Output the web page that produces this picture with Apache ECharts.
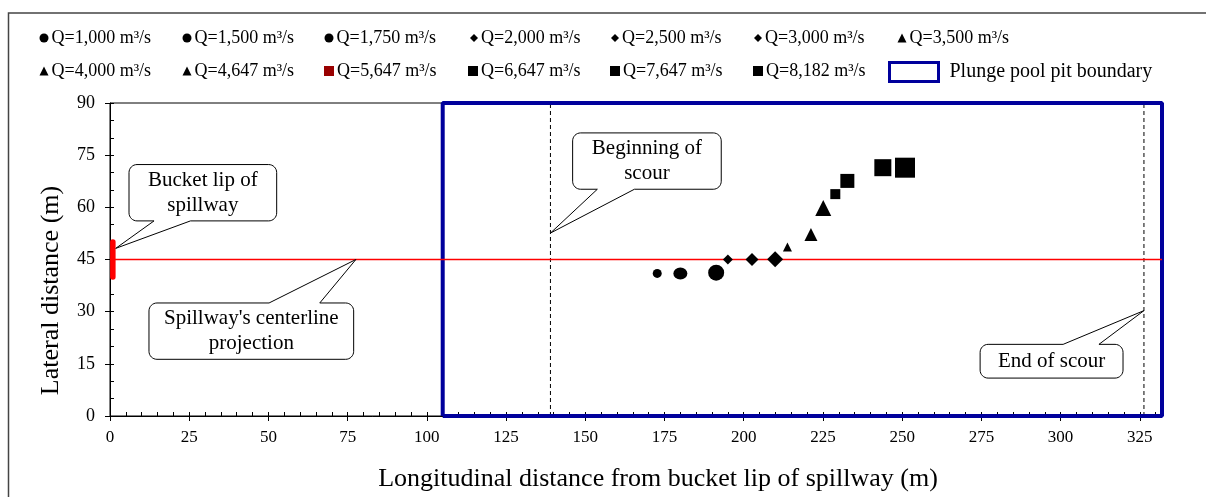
<!DOCTYPE html>
<html><head><meta charset="utf-8">
<script src="https://cdn.jsdelivr.net/npm/echarts@6/dist/echarts.min.js"></script>
<style>html,body{margin:0;padding:0;background:#fff}#c{width:1206px;height:497px}</style>
</head><body><div id="c"></div>
<script>
// ---------- data ----------
const seriesNames = ['Q=1,000 m³/s','Q=1,500 m³/s','Q=1,750 m³/s','Q=2,000 m³/s','Q=2,500 m³/s','Q=3,000 m³/s','Q=3,500 m³/s',
  'Q=4,000 m³/s','Q=4,647 m³/s','Q=5,647 m³/s','Q=6,647 m³/s','Q=7,647 m³/s','Q=8,182 m³/s'];
const xValues = [172.7, 180.0, 191.3, 195.0, 202.6, 209.9, 213.8, 221.2, 225.1, 228.9, 232.7, 243.9, 250.9];
const yValues = [41.0, 41.0, 41.2, 45.0, 45.0, 45.1, 48.6, 52.2, 59.8, 63.8, 67.6, 71.4, 71.4];
const boundaryName = 'Plunge pool pit boundary';
const boundaryX = [105, 332];
const boundaryY = [0, 90];
const centerlineY = 45;
const bucketLipX = 0.9;
const bucketLipY = [40, 50];
const scourStartX = 139;
const scourEndX = 326.3;
const xRange = [0, 332];
const yRange = [0, 90];
const calloutTexts = ['Bucket lip of\nspillway', "Spillway's centerline\nprojection", 'Beginning of\nscour', 'End of scour'];

// ---------- styles / layout ----------
const FONT = '"Liberation Serif","Times New Roman",serif';
const symbolKinds = ['circle','circle','circle','diamond','diamond','diamond','triangle','triangle','triangle','rect','rect','rect','rect'];
const symbolSizes = [9, [14,12], 16, 10, 13, 16, 9, 13, 16, 10, 14, 17, 20];
const legendIcon = [9,9,9,8,8,8,9,9,9,10,10,10,10];
const legendPos = [
  [44,38],[187,38],[329,38],[474,38],[615,38],[758,38],[902,38],
  [44,71],[187,71],[329,71],[473,71],[615,71],[758,71]
];
const BLUE = '#00009c';
// callout geometry in data coords: box [x1,yTop,x2,yBottom], wedge base x-range, side, tip
const calloutGeo = [
  {box:[6.0,72.3,52.6,56.1], base:[13.9,25.4], side:'bottom', tip:[1.8,48.2]},
  {box:[12.3,32.5,76.9,16.3], base:[50.2,66.2], side:'top', tip:[77.6,45]},
  {box:[146.0,81.4,192.9,65.2], base:[153.8,165.5], side:'bottom', tip:[139,52.6]},
  {box:[274.6,20.6,319.7,10.9], base:[300.8,312.1], side:'top', tip:[326.3,30.3]}
];

const chart = echarts.init(document.getElementById('c'), null, {renderer:'canvas'});

const series = [];
seriesNames.forEach((n,i)=>{
  series.push({
    name:n, type:'scatter', symbol:symbolKinds[i], symbolSize:symbolSizes[i],
    itemStyle:{color:'#000', opacity:1}, z:5, silent:true,
    data:[[xValues[i], yValues[i]]]
  });
});
series.push({
  name:boundaryName, type:'line', symbol:'none', clip:false, z:4, silent:true,
  lineStyle:{color:BLUE, width:4},
  data:[[boundaryX[0],boundaryY[0]],[boundaryX[0],boundaryY[1]],[boundaryX[1],boundaryY[1]],[boundaryX[1],boundaryY[0]],[boundaryX[0],boundaryY[0]]]
});
series.push({
  name:'centerline', type:'line', symbol:'none', clip:false, z:4, silent:true,
  color:'#ff0000', itemStyle:{color:'#ff0000'},
  lineStyle:{color:'#ff0000', width:1.4, opacity:1},
  data:[[xRange[0],centerlineY],[boundaryX[1],centerlineY]]
});
series.push({
  name:'bucket', type:'line', symbol:'none', clip:false, z:6, silent:true,
  lineStyle:{color:'#ff0000', width:5.5, cap:'round'},
  data:[[bucketLipX,bucketLipY[0]],[bucketLipX,bucketLipY[1]]]
});
[scourStartX, scourEndX].forEach((x,k)=>{
  series.push({
    name:'scour'+k, type:'line', symbol:'none', clip:false, z:3, silent:true,
    lineStyle:{color:'#000', width:1, type:[4,3]},
    data:[[x,yRange[0]],[x,yRange[1]]]
  });
});

const legends = seriesNames.map((n,i)=>({
  data:[i===9 ? {name:n, itemStyle:{color:'#990000', opacity:1}} : n],
  left: legendPos[i][0]-legendIcon[i]/2, top: legendPos[i][1]-9,
  padding:0, itemWidth:legendIcon[i], itemHeight:legendIcon[i], selectedMode:false,
  textStyle:{fontFamily:FONT, fontSize:18, color:'#000', padding:[0,0,0,-2]}
}));
legends.push({
  data:[{name:boundaryName, icon:'rect', itemStyle:{color:'#fff', borderColor:BLUE, borderWidth:3}, lineStyle:{opacity:0}}],
  left:888, top:61, padding:0, itemWidth:49, itemHeight:19, selectedMode:false,
  textStyle:{fontFamily:FONT, fontSize:20, color:'#000', padding:[0,0,0,6]}
});

const axisCommon = {
  type:'value', splitLine:{show:false},
  axisLine:{show:true, lineStyle:{color:'#000', width:1}},
  axisTick:{show:true, length:5, lineStyle:{color:'#000', width:1}}
};
const minorCommon = {
  type:'value', splitLine:{show:false}, axisLine:{show:false}, axisLabel:{show:false},
  axisTick:{show:true, inside:true, length:4, lineStyle:{color:'#000', width:1}}
};

chart.setOption({
  animation:false,
  backgroundColor:'#fff',
  grid:{left:110, right:44, top:103, bottom:77, show:true, borderColor:'#000', borderWidth:1, backgroundColor:'#fff'},
  legend: legends,
  xAxis:[
    Object.assign({}, axisCommon, {min:xRange[0], max:xRange[1], interval:25, position:'bottom',
      axisLabel:{fontFamily:FONT, fontSize:17, color:'#000', margin:13, showMaxLabel:false,
        formatter:v=> (v%25===0 ? String(v) : '')},
      name:'Longitudinal distance from bucket lip of spillway (m)', nameLocation:'middle', nameGap:50,
      nameTextStyle:{fontFamily:FONT, fontSize:26, color:'#000', padding:[0,0,0,44]}}),
    Object.assign({}, minorCommon, {min:xRange[0], max:xRange[1], interval:5, position:'bottom'})
  ],
  yAxis:[
    Object.assign({}, axisCommon, {min:yRange[0], max:yRange[1], interval:15, position:'left',
      axisLabel:{fontFamily:FONT, fontSize:18, color:'#000', margin:15},
      name:'Lateral distance (m)', nameLocation:'middle', nameGap:46,
      nameTextStyle:{fontFamily:FONT, fontSize:26, color:'#000', padding:[0,62,0,0]}}),
    Object.assign({}, minorCommon, {min:yRange[0], max:yRange[1], interval:5, position:'left'})
  ],
  series: series
});

// ---------- callouts & frame ----------
function P(x,y){ return chart.convertToPixel({gridIndex:0},[x,y]); }
function arc(pts, cx, cy, r, a0, a1){
  const n = 8;
  for (let k=0;k<=n;k++){ const a=(a0+(a1-a0)*k/n)*Math.PI/180; pts.push([cx+r*Math.cos(a), cy+r*Math.sin(a)]); }
}
const graphics = [];
graphics.push({type:'rect', shape:{x:8.5, y:13, width:1210, height:500}, style:{fill:null, stroke:'#444', lineWidth:1.5}, z:100, silent:true});
calloutGeo.forEach((g,i)=>{
  const a = P(g.box[0], g.box[1]), b = P(g.box[2], g.box[3]);
  const x1=a[0], y1=a[1], x2=b[0], y2=b[1], r=8;
  const bx1 = P(g.base[0],0)[0], bx2 = P(g.base[1],0)[0];
  const t = P(g.tip[0], g.tip[1]);
  const pts = [];
  pts.push([x1+r,y1]);
  if (g.side==='top') { pts.push([bx1,y1]); pts.push([t[0],t[1]]); pts.push([bx2,y1]); }
  arc(pts, x2-r, y1+r, r, -90, 0);
  arc(pts, x2-r, y2-r, r, 0, 90);
  if (g.side==='bottom') { pts.push([bx2,y2]); pts.push([t[0],t[1]]); pts.push([bx1,y2]); }
  arc(pts, x1+r, y2-r, r, 90, 180);
  arc(pts, x1+r, y1+r, r, 180, 270);
  graphics.push({type:'polygon', shape:{points:pts}, style:{fill:'#fff', stroke:'#000', lineWidth:1}, z:50, silent:true});
  graphics.push({type:'text', x:(x1+x2)/2, y:(y1+y2)/2, z:51, silent:true,
    style:{text:calloutTexts[i], fill:'#000', font:'21px '+FONT, align:'center', verticalAlign:'middle', lineHeight:25}});
});
chart.setOption({graphic:graphics});
</script>
</body></html>
